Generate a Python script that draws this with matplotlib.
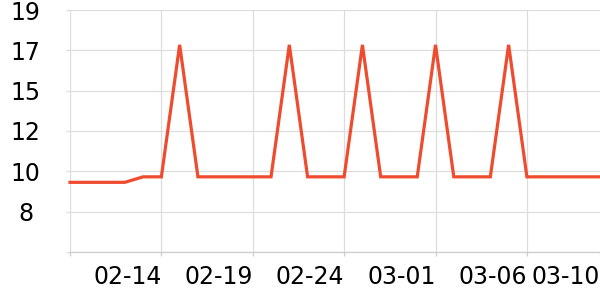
import numpy as np
import matplotlib
matplotlib.use("Agg")
import matplotlib.pyplot as plt

# daily values, 02-09 .. 03-10
dates = ["02-%02d" % d for d in range(9, 29)] + ["03-%02d" % d for d in range(1, 11)]
values = [9.6, 9.6, 9.6, 9.6, 9.9, 9.9, 17.1, 9.9, 9.9, 9.9,
          9.9, 9.9, 17.1, 9.9, 9.9, 9.9, 17.1, 9.9, 9.9, 9.9,
          17.1, 9.9, 9.9, 9.9, 17.1, 9.9, 9.9, 9.9, 9.9, 9.9]

x_tick_idx = [0, 5, 10, 15, 20, 25, 29]
y_ticks = [5.8, 8.0, 10.2, 12.4, 14.6, 16.8, 19.0]
y_tick_labels = ["", "8", "10", "12", "15", "17", "19"]

fig = plt.figure(figsize=(6, 3), dpi=100)
ax = fig.add_axes([70 / 600, 48 / 300, 530 / 600, 242 / 300])

x = np.arange(len(values))
ax.plot(x, values, color="#ef4b2e", linewidth=2.3, solid_joinstyle="miter", clip_on=False, zorder=3)

ax.set_xlim(0, len(values) - 1)
ax.set_ylim(y_ticks[0], y_ticks[-1])

ax.set_xticks(x_tick_idx)
ax.set_xticklabels([""] + [dates[i] for i in x_tick_idx[1:]], ha="right", fontsize=17)
ax.set_yticks(y_ticks)
ax.set_yticklabels(y_tick_labels, ha="center", fontsize=17)

ax.grid(True, color="#dddddd", linewidth=0.9)
ax.get_xgridlines()[-1].set_visible(False)
ax.tick_params(axis="x", length=3, width=0.9, color="#cccccc", pad=6.5)
ax.tick_params(axis="y", length=3, width=0.9, color="#dddddd", pad=29)

for s in ["top", "right", "left"]:
    ax.spines[s].set_visible(False)
ax.spines["bottom"].set_color("#cccccc")
ax.spines["bottom"].set_linewidth(0.9)

fig.savefig("out.png", dpi=100)
